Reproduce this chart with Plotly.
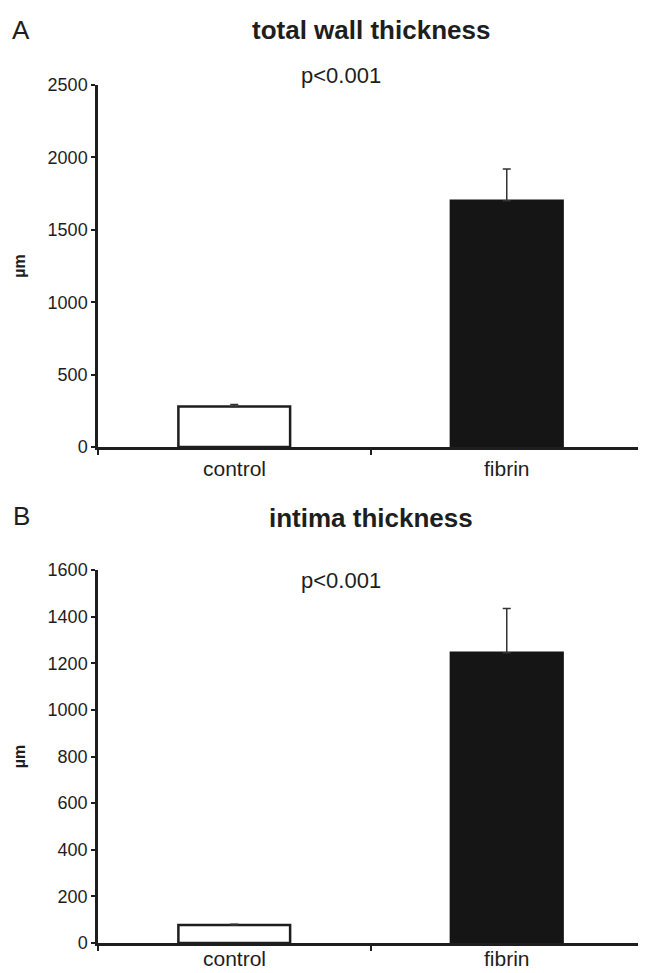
import plotly.graph_objects as go

categories = ["control", "fibrin"]

# Panel A: total wall thickness (µm)
wall_mean = [280, 1700]
wall_sem = [14, 220]
wall_ticks = [0, 500, 1000, 1500, 2000, 2500]

# Panel B: intima thickness (µm)
intima_mean = [77, 1245]
intima_sem = [3, 190]
intima_ticks = [0, 200, 400, 600, 800, 1000, 1200, 1400, 1600]

panel_labels = ["A", "B"]
panel_titles = ["total wall thickness", "intima thickness"]
p_text = "p<0.001"
y_title = "µm"

# the page adds an 8 px body margin, so the figure is 8 px smaller
OFF = 8
W, H = 646 - OFF, 973 - OFF
FONT = "Liberation Sans, Arial, Helvetica, sans-serif"
AX = "#1e1e1e"


def px(x):
    return (x - OFF) / W


def py(y):
    return 1 - (y - OFF) / H


fig = go.Figure()

bar_fill = ["#ffffff", "#151515"]
bar_line = ["#1e1e1e", "#151515"]


def add_panel(xref, yref, means, sems):
    for i, cat in enumerate(categories):
        fig.add_trace(go.Bar(
            x=[cat], y=[means[i]], xaxis=xref, yaxis=yref,
            width=0.41,
            marker=dict(color=bar_fill[i], line=dict(color=bar_line[i], width=2.5)),
            error_y=dict(type="data", array=[sems[i]], arrayminus=[0], symmetric=False,
                         color="#333333", thickness=1.5, width=4),
            showlegend=False, hoverinfo="skip",
        ))


add_panel("x", "y", wall_mean, wall_sem)
add_panel("x2", "y2", intima_mean, intima_sem)

xd = [px(98), px(643)]
yd_top = [py(447), py(85)]
yd_bot = [py(943), py(570)]

xaxis_common = dict(
    type="category", categoryorder="array", categoryarray=categories,
    range=[-0.5, 1.5], tickson="boundaries", ticks="outside", ticklen=5, tickwidth=2,
    tickcolor=AX, showline=True, linecolor=AX, linewidth=2.5, showgrid=False,
    zeroline=False, showticklabels=False,
    domain=xd, fixedrange=True, automargin=False,
)
yaxis_common = dict(
    ticks="outside", ticklen=4, tickwidth=2, tickcolor=AX, showline=True,
    linecolor=AX, linewidth=2.5, showgrid=False, zeroline=False,
    tickfont=dict(family=FONT, size=18, color="#1e1e1e"),
    title=dict(text="<b>" + y_title + "</b>", font=dict(family=FONT, size=16, color="#1e1e1e"), standoff=19),
    ticklabelstandoff=0, automargin=False,
)

fig.update_layout(
    template="none",
    width=W, height=H,
    margin=dict(l=0, r=0, t=0, b=0),
    paper_bgcolor="white", plot_bgcolor="white",
    bargap=0.59,
    xaxis=dict(xaxis_common, anchor="y"),
    yaxis=dict(yaxis_common, domain=yd_top, range=[0, 2500], tickvals=wall_ticks, anchor="x"),
    xaxis2=dict(xaxis_common, anchor="y2"),
    yaxis2=dict(yaxis_common, domain=yd_bot, range=[0, 1600], tickvals=intima_ticks, anchor="x2"),
)

ann = []
for lab, title, ylab, ytitle, yp in [
    (panel_labels[0], panel_titles[0], 30, 30, 75),
    (panel_labels[1], panel_titles[1], 516, 518, 580),
]:
    ann.append(dict(text=lab, x=px(21), y=py(ylab), xref="paper", yref="paper",
                    showarrow=False, xanchor="center", yanchor="middle",
                    font=dict(family=FONT, size=26, color="#1e1e1e")))
    ann.append(dict(text="<b>" + title + "</b>", x=px(371), y=py(ytitle), xref="paper", yref="paper",
                    showarrow=False, xanchor="center", yanchor="middle",
                    font=dict(family=FONT, size=26, color="#1e1e1e")))
    ann.append(dict(text=p_text, x=px(341), y=py(yp), xref="paper", yref="paper",
                    showarrow=False, xanchor="center", yanchor="middle",
                    font=dict(family=FONT, size=22, color="#1e1e1e")))

# category labels under each x axis
for xref, ylab in [("x", 469), ("x2", 958)]:
    for cat in categories:
        ann.append(dict(text=cat, x=cat, y=py(ylab), xref=xref, yref="paper",
                        showarrow=False, xanchor="center", yanchor="middle",
                        font=dict(family=FONT, size=21, color="#1e1e1e")))
fig.update_layout(annotations=ann)

fig.write_html("out.html")
